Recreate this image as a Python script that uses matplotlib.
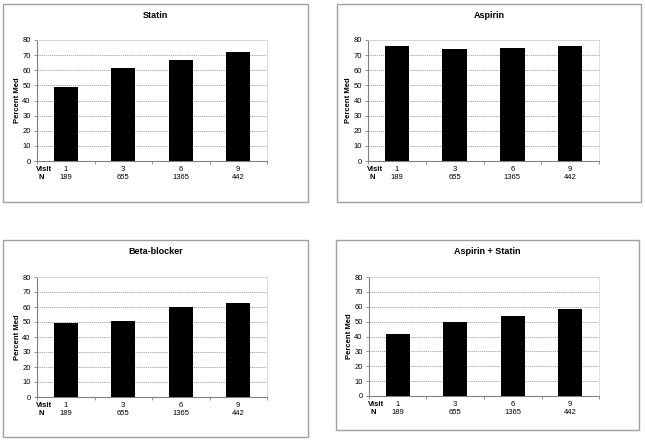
import matplotlib
matplotlib.use("Agg")
import matplotlib.pyplot as plt
from matplotlib.patches import Rectangle

plt.rcParams['font.family'] = ['Liberation Sans', 'DejaVu Sans']

# data
visits = ["1", "3", "6", "9"]
n_counts = ["189", "655", "1365", "442"]

statin = [49, 61.5, 67, 72]
aspirin = [76, 74, 74.5, 76]
beta_blocker = [49.5, 50.5, 60, 62.5]
aspirin_statin = [41.5, 50, 53.5, 58.5]

titles = ["Statin", "Aspirin", "Beta-blocker", "Aspirin + Statin"]
series = [statin, aspirin, beta_blocker, aspirin_statin]

W, H = 645, 442
fig = plt.figure(figsize=(W / 100, H / 100), dpi=100)

# panel border boxes and axes area in pixels: (left, top, right, bottom)
panels = [(3, 4, 308, 202), (337, 4, 641, 202), (3, 240, 308, 437), (336, 240, 639, 430)]
plot_areas = [(37, 40, 267, 161), (368, 40, 599, 161), (37, 277, 267, 397), (369, 277, 599, 396)]


def fx(px):
    return px / W


def fy(py):
    return 1 - py / H


for title, vals, box, area in zip(titles, series, panels, plot_areas):
    l, t, r, b = box
    fig.patches.append(Rectangle((fx(l), fy(b)), fx(r - l), (b - t) / H,
                                 transform=fig.transFigure, fill=False,
                                 edgecolor="#a0a0a0", linewidth=1.0))
    fig.text(fx((l + r) / 2), fy(t + 11), title, ha="center", va="center",
             fontsize=6.5, fontweight="bold")

    al, at, ar, ab = area
    ax = fig.add_axes([fx(al), fy(ab), fx(ar - al), (ab - at) / H])
    x = range(len(vals))
    ax.bar(x, vals, width=0.42, color="black", zorder=3)
    ax.set_xlim(-0.5, 3.5)
    ax.set_ylim(0, 80)
    ax.set_yticks(range(0, 81, 10))
    ax.yaxis.grid(True, color="#9a9a9a", linestyle=(0, (1.5, 1)), linewidth=0.6)
    ax.tick_params(axis="y", labelsize=5.5, length=2.5, width=0.6,
                   color="#808080", pad=2)
    ax.set_xticks([-0.5, 0.5, 1.5, 2.5, 3.5])
    ax.set_xticklabels([])
    ax.tick_params(axis="x", length=2.5, width=0.6, color="#808080")
    for side in ["left", "bottom"]:
        ax.spines[side].set_color("#808080")
        ax.spines[side].set_linewidth(0.8)
    for side in ["top", "right"]:
        ax.spines[side].set_color("#d8d8d8")
        ax.spines[side].set_linewidth(0.6)
    ax.set_ylabel("Percent Med", fontsize=5.5, fontweight="bold", labelpad=1)

    for i, (v, n) in enumerate(zip(visits, n_counts)):
        ax.text(i, -0.07, v, transform=ax.get_xaxis_transform(),
                ha="center", va="center", fontsize=5.5)
        ax.text(i, -0.14, n, transform=ax.get_xaxis_transform(),
                ha="center", va="center", fontsize=5.5)
    ax.text(-0.005, -0.07, "Visit", transform=ax.transAxes, ha="left",
            va="center", fontsize=5.5, fontweight="bold")
    ax.text(0.005, -0.14, "N", transform=ax.transAxes, ha="left",
            va="center", fontsize=5.5, fontweight="bold")

fig.savefig("out.png", dpi=100)
